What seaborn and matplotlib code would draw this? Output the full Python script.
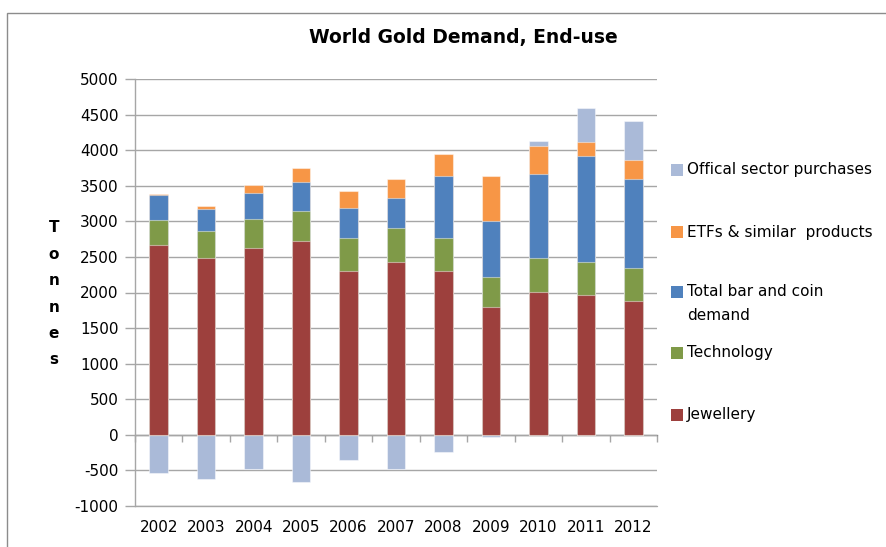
import matplotlib
matplotlib.use("Agg")
import matplotlib.pyplot as plt
from matplotlib.patches import Rectangle
import numpy as np
import pandas as pd
import seaborn as sns

# ---- data (tonnes) ----
years = ["2002", "2003", "2004", "2005", "2006", "2007", "2008", "2009", "2010", "2011", "2012"]
jewellery = [2665, 2486, 2627, 2726, 2307, 2429, 2307, 1800, 2005, 1965, 1880]
technology = [359, 382, 401, 425, 462, 482, 462, 422, 481, 460, 469]
bar_coin = [353, 306, 367, 396, 419, 415, 863, 783, 1183, 1500, 1240]
etfs = [3, 43, 119, 203, 237, 268, 316, 627, 383, 188, 274]
official = [-537, -621, -486, -664, -360, -486, -243, -33, 80, 476, 543]

series_names = ["Offical sector purchases", "ETFs & similar  products",
                "Total bar and coin\ndemand", "Technology", "Jewellery"]
colors = {"Jewellery": "#9D403D", "Technology": "#7F9A48",
          "Bar": "#4F81BD", "ETF": "#F79646", "Official": "#AABAD8"}

W, H = 887, 547
sns.set_theme(style="white")
plt.rcParams["font.family"] = ["DejaVu Sans"]
plt.rcParams["axes.unicode_minus"] = False
fig = plt.figure(figsize=(W / 100, H / 100), dpi=100)
ax = fig.add_axes([135 / W, 1 - 506 / H, (657 - 135) / W, (506 - 79) / H])

df = pd.DataFrame({"year": years, "jew": jewellery, "tech": technology,
                   "bar": bar_coin, "etf": etfs, "off": official})
df["l1"] = df["jew"]
df["l2"] = df["l1"] + df["tech"]
df["l3"] = df["l2"] + df["bar"]
df["l4"] = df["l3"] + df["etf"]
df["l5"] = np.where(df["off"] > 0, df["l4"] + df["off"], df["off"])

bw = 0.39
edge = dict(edgecolor=(1, 1, 1, 0.45), linewidth=0.8)
for col, c in [("l5", colors["Official"]), ("l4", colors["ETF"]), ("l3", colors["Bar"]),
               ("l2", colors["Technology"]), ("l1", colors["Jewellery"])]:
    sns.barplot(data=df, x="year", y=col, color=c, width=bw, errorbar=None,
                order=years, ax=ax, saturation=1, zorder=3, **edge)

ax.set_xlim(-0.5, len(years) - 0.5)
ax.set_ylim(-1000, 5000)
ax.set_yticks(np.arange(-1000, 5001, 500))
ax.set_xlabel("")
ax.set_ylabel("")
grid_c = "#A6A6A6"
ax.grid(axis="y", color=grid_c, linewidth=1.0, zorder=0)
ax.grid(axis="x", visible=False)
ax.axhline(-1000, color=grid_c, linewidth=1.0, clip_on=False, zorder=1)
for s in ["top", "right", "bottom"]:
    ax.spines[s].set_visible(False)
ax.spines["left"].set_color(grid_c)
ax.spines["left"].set_linewidth(1.0)
ax.tick_params(axis="y", which="major", direction="out", length=7, width=1,
               color=grid_c, labelsize=11, labelcolor="#000000", pad=5, left=True)
ax.tick_params(axis="x", length=0, labelsize=11, labelcolor="#000000", pad=10)

# zero-line axis with tick marks between categories
sec = ax.secondary_xaxis(1000 / 6000)
sec.set_xticks(np.arange(-0.5, len(years), 1.0))
sec.set_xticklabels([])
sec.tick_params(direction="out", length=5, width=1, color=grid_c)
sec.spines["bottom"].set_color("#8C8C8C")
sec.spines["bottom"].set_linewidth(1.0)
for s in ["top", "left", "right"]:
    if s in sec.spines:
        sec.spines[s].set_visible(False)

# title
fig.text(463 / W, 1 - 38 / H, "World Gold Demand, End-use", ha="center", va="center",
         fontsize=13.5, fontweight="bold", color="#000000")

# vertical stacked y label
for i, ch in enumerate("Tonnes"):
    fig.text(54 / W, 1 - (228 + 26.4 * i) / H, ch, ha="center", va="center",
             fontsize=11, fontweight="bold", color="#000000")

# legend (manual)
leg_colors = [colors["Official"], colors["ETF"], colors["Bar"], colors["Technology"], colors["Jewellery"]]
leg_y = [170, 232, 292, 353, 415]
for name, c, y in zip(series_names, leg_colors, leg_y):
    fig.patches.append(Rectangle((671 / W, 1 - (y + 6) / H), 12 / W, 12 / H,
                                 transform=fig.transFigure, facecolor=c, edgecolor="none"))
    if "\n" in name:
        l1, l2 = name.split("\n")
        fig.text(687 / W, 1 - y / H, l1, ha="left", va="center", fontsize=11, color="#000000")
        fig.text(687 / W, 1 - (y + 23) / H, l2, ha="left", va="center", fontsize=11, color="#000000")
    else:
        fig.text(687 / W, 1 - y / H, name, ha="left", va="center", fontsize=11, color="#000000")

# chart border
fig.patches.append(Rectangle((7 / W, -0.05), 1.1, 1 - 13 / H + 0.05, transform=fig.transFigure,
                             facecolor="none", edgecolor="#8C8C8C", linewidth=1.0))

fig.savefig("out.png", dpi=100)
